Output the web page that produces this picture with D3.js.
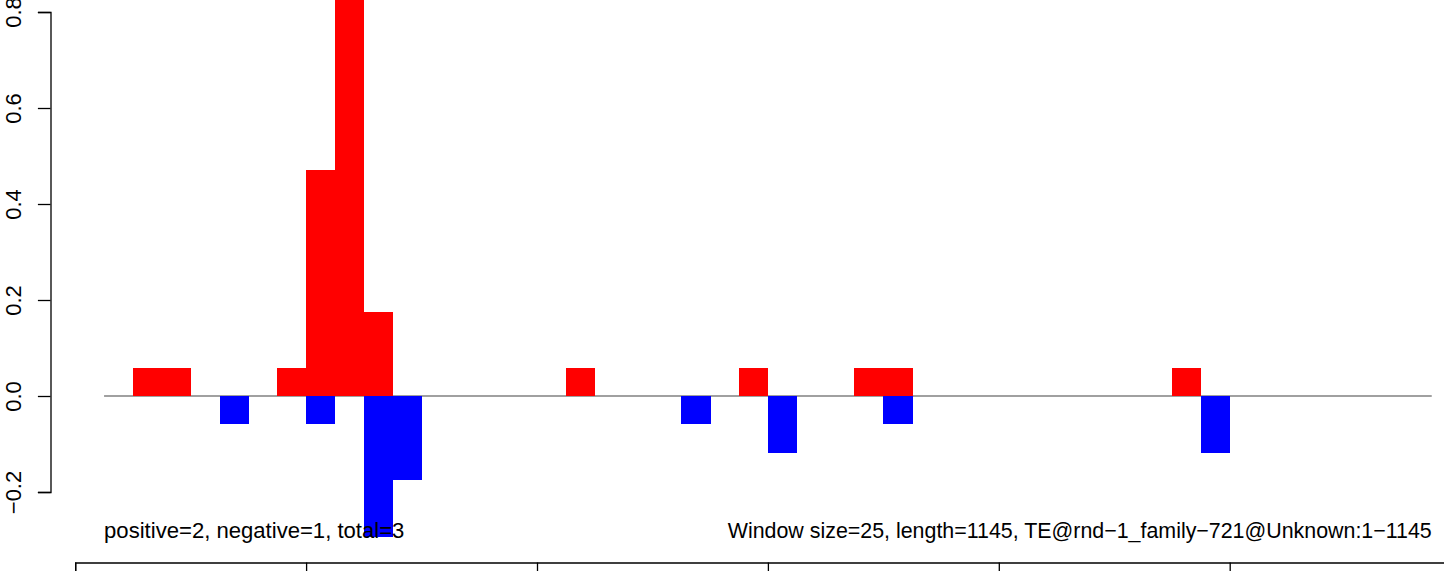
<!DOCTYPE html>
<html>
<head>
<meta charset="utf-8">
<script src="https://cdn.jsdelivr.net/npm/d3@7"></script>
<style>
  html, body { margin: 0; padding: 0; background: #fff; }
  svg { display: block; }
  text { font-family: "Liberation Sans", Arial, Helvetica, sans-serif; }
</style>
</head>
<body>
<svg id="chart" width="1444" height="571"></svg>
<script>
// ---- data ----
const windowSize = 25;
const seqLength = 1145;
const binStart = [25, 50, 75, 100, 125, 150, 175, 200, 225, 250,
                  275, 300, 325, 350, 375, 400, 425, 450, 475, 500,
                  525, 550, 575, 600, 625, 650, 675, 700, 725, 750,
                  775, 800, 825, 850, 875, 900, 925, 950, 975, 1000,
                  1025, 1050, 1075, 1100, 1125, 1150];
const positive = [0, 0.059, 0.059, 0, 0, 0, 0.059, 0.471, 0.941, 0.176,
                  0, 0, 0, 0, 0, 0, 0.059, 0, 0, 0,
                  0, 0, 0.059, 0, 0, 0, 0.059, 0.059, 0, 0,
                  0, 0, 0, 0, 0, 0, 0, 0.059, 0, 0,
                  0, 0, 0, 0, 0, 0];
const negative = [0, 0, 0, 0, -0.059, 0, 0, -0.059, 0, -0.294,
                  -0.176, 0, 0, 0, 0, 0, 0, 0, 0, 0,
                  -0.059, 0, 0, -0.118, 0, 0, 0, -0.059, 0, 0,
                  0, 0, 0, 0, 0, 0, 0, 0, -0.118, 0,
                  0, 0, 0, 0, 0, 0];
const yTicks = [-0.2, 0.0, 0.2, 0.4, 0.6, 0.8];
const xTicks = [0, 200, 400, 600, 800, 1000, 1200];
const leftLabel = "positive=2, negative=1, total=3";
const rightLabel = "Window size=25, length=1145, TE@rnd\u22121_family\u2212721@Unknown:1\u22121145";

// ---- layout ----
const svg = d3.select("#chart");
const x = d3.scaleLinear().domain([0, 1200]).range([75.2, 75.2 + 1200 * 1.1545]);
const y = d3.scaleLinear().domain([-0.2, 0.8]).range([492, 12]);
const fontSize = 22;

// zero line
svg.append("line")
  .attr("x1", x(binStart[0])).attr("x2", x(binStart[binStart.length - 1] + windowSize))
  .attr("y1", y(0)).attr("y2", y(0))
  .attr("stroke", "#808080").attr("stroke-width", 1.3);

const rows = binStart.map((s, i) => ({ s, p: positive[i], n: negative[i] }));

svg.append("g").attr("shape-rendering", "crispEdges")
  .selectAll("rect").data(rows.filter(d => d.p > 0)).join("rect")
  .attr("x", d => x(d.s)).attr("width", d => x(d.s + windowSize) - x(d.s) + 0.5)
  .attr("y", d => y(d.p)).attr("height", d => y(0) - y(d.p))
  .attr("fill", "#FF0000");

svg.append("g").attr("shape-rendering", "crispEdges")
  .selectAll("rect").data(rows.filter(d => d.n < 0)).join("rect")
  .attr("x", d => x(d.s)).attr("width", d => x(d.s + windowSize) - x(d.s) + 0.5)
  .attr("y", y(0)).attr("height", d => y(d.n) - y(0))
  .attr("fill", "#0000FF");

// left axis
const yAxis = d3.axisLeft(y).tickValues(yTicks).tickSize(12.6).tickPadding(17)
  .tickFormat(d3.format(".1f"));
const gy = svg.append("g").attr("transform", "translate(50.5,0)").call(yAxis);
gy.select(".domain").attr("stroke", "#000").attr("stroke-width", 1.3);
gy.selectAll(".tick line").attr("stroke", "#000").attr("stroke-width", 1.3);
gy.selectAll(".tick text")
  .attr("font-size", fontSize)
  .attr("fill", "#000")
  .attr("x", null).attr("dy", null)
  .attr("text-anchor", "middle")
  .attr("transform", "translate(-29.5,0) rotate(-90)")
  .text(d => d3.format(".1f")(d).replace("-", "\u2212"));

// bottom axis
const xAxis = d3.axisBottom(x).tickValues(xTicks).tickSize(14).tickFormat("");
const gx = svg.append("g").attr("transform", "translate(0,562.5)").call(xAxis);
gx.select(".domain").attr("stroke", "#000").attr("stroke-width", 1.3);
gx.selectAll(".tick line").attr("stroke", "#000").attr("stroke-width", 1.3);

// annotations
svg.append("text").attr("x", x(binStart[0])).attr("y", 537.5)
  .attr("font-size", 22.1).attr("fill", "#000")
  .text(leftLabel);
const xr = x(binStart[binStart.length - 1] + windowSize);
svg.append("text").attr("x", xr).attr("y", 537.5)
  .attr("text-anchor", "end")
  .attr("font-size", 21.4).attr("fill", "#000")
  .text(rightLabel);
</script>
</body>
</html>
